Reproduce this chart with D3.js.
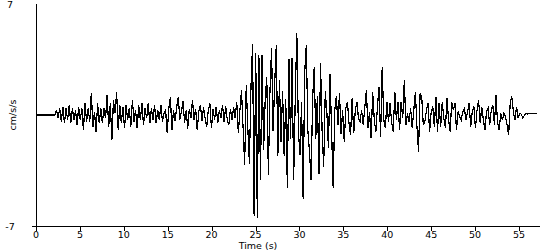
<!DOCTYPE html>
<html>
<head>
<meta charset="utf-8">
<script src="https://cdn.jsdelivr.net/npm/d3@7"></script>
<style>
  html, body { margin: 0; padding: 0; background: #fff; }
  svg { display: block; }
  text { font-family: "DejaVu Sans", sans-serif; font-size: 10px; fill: #000; }
</style>
</head>
<body>
<svg id="chart" width="550" height="250"></svg>
<script>
// ---- data ----
const sampleStep = 0.18; // seconds between samples
const quietStart = [0,0,0,0,0,0,0,0,0,0,0,0,0];
const preEvent = [0.32,-0.21,0.42,-0.42,0.53,-0.53,0.42,-0.32,0.63,-0.53,
  0.42,-0.32,0.32,-0.63,0.53,-0.32,0.42,-0.95,0.74,-0.42,
  0.42,-0.42,1.41,-0.74,0.21,-1.05,0.74,-0.53,0.42,-0.53,
  0.42,-0.21,1.26,-0.74,0.74,-1.58,0.95,0.1,1.47,-0.95,
  0.63,-0.53,0.53,-0.84,0.63,-0.32,0.42,-0.74,0.95,-0.42,
  0.32,-0.84,0.63,-0.32,0.74,-0.63,0.42,-0.21,0.74,-0.53,
  0.42,-0.32,0.63,-0.53,0.32,-0.32,0.63,-0.42,0.1,
  0.3,-1.15,0.4,1.15,-0.95,0.3,-0.4,0.5,1.15,-0.3,
  0.2,0.85,-0.5,0.3,-0.85,0.4,-0.2,0.95,-0.3,0.4,
  -0.95,0.2,0.63,-0.4,0.5,-0.2,-0.74,0.3,0.74,-0.84,
  0.4,-0.3,0.53,-0.5,0.3,-0.2,0.63,-0.45,0.57,-0.3,
  -0.63,0.4,-0.3,0.5,-0.2,0.84,-1.15,0.3,1.58];
const strongMotion = [-0.8,-3.15,1.9,-0.8,-3.1,1.8,4.5,-6.4,3.9,-6.5,
  3.8,-4.1,3.8,-2.2,1.0,2.4,-3.8,1.5,4.2,-1.0,
  2.0,4.4,-2.6,2.2,-1.7,1.5,-2.6,1.0,-4.6,3.5,
  -1.5,3.6,-4.1,1.0,5.2,-1.0,-2.5,0.8,-5.3,2.7,
  4.4,-1.0,-2.3,-4.1,1.0,3.0,-1.5,1.2,-3.7,3.3,
  -1.0,-3.3,1.5,0.2,-2.1,2.6,-1.0,-4.6,0.3,1.2,
  -0.6,1.4,-1.2,0.3,-1.7];
const coda = [0.4,0.84,-0.5,-1.26,1.05,-1.16,0.3,0.84,-0.2,-0.42,
  0.3,-0.63,0.5,1.58,-0.84,0.2,-1.47,1.47,-0.3,-1.05,
  0.5,1.79,-1.37,3.05,-0.3,-0.84,0.84,-0.42,0.74,-0.5,
  -1.05,1.47,-0.3,0.84,-0.95,0.84,-0.2,2.2,-0.63,0.1,
  -0.42,0.42,
  -0.84,0.3,1.47,-0.74,-2.31,1.37,1.16,-0.63,-0.42,0.3,
  0.74,-1.05,0.2,0.53,-0.74,1.16,-1.05,0.74,-0.74,0.84,
  -0.2,-0.84,1.05,-0.3,-1.05,0.84,0.3,0.74,-0.95,0.21,
  -0.1,-0.32,0.2,0.42,-0.32,0.2,0.74,-0.74,0.2,0.53,
  -0.84,0.3,0.95,-0.53,0.53,-0.3,-0.95,0.2,0.42,-0.63,
  0.3,0.63,-0.63,1.26,-0.5,-0.95,0.1,-0.32,0.1,-0.1,
  -0.6,-1.26,0.74,1.16,0.2,-0.32,0.53,-0.21,0.1,0.05,
  -0.21,0.0,0.1,0.05,0.1,0.1,0.1,0.1,0.1,0.1];
const xTicks = [0,5,10,15,20,25,30,35,40,45,50,55];
const yTicks = [-7, 7];
const xTitle = "Time (s)";
const yTitle = "cm/s/s";

const accel = [].concat(quietStart, preEvent, strongMotion, coda);
const series = accel.map((v, i) => ({ t: i * sampleStep, v }));

// ---- layout ----
const svg = d3.select("#chart");
const x = d3.scaleLinear().domain([0, 55]).range([36, 519]);
const y = d3.scaleLinear().domain([-7, 7]).range([226, 4]);

// x axis
const xAxis = svg.append("g").attr("transform", "translate(0,226)");
xAxis.append("line")
  .attr("x1", 32).attr("x2", 540).attr("y1", 0.5).attr("y2", 0.5)
  .attr("stroke", "#000").attr("shape-rendering", "crispEdges");
xAxis.selectAll("line.tick").data(xTicks).enter().append("line")
  .attr("class", "tick")
  .attr("x1", d => Math.round(x(d)) + 0.5).attr("x2", d => Math.round(x(d)) + 0.5)
  .attr("y1", 0).attr("y2", 5)
  .attr("stroke", "#000").attr("shape-rendering", "crispEdges");
xAxis.selectAll("text").data(xTicks).enter().append("text")
  .attr("x", d => x(d)).attr("y", 12)
  .attr("text-anchor", "middle")
  .style("font-size", "9.5px")
  .text(d => d);

// y axis
svg.append("line")
  .attr("x1", 36.5).attr("x2", 36.5).attr("y1", y(7)).attr("y2", 226)
  .attr("stroke", "#000").attr("shape-rendering", "crispEdges");
svg.selectAll("text.ytick").data(yTicks).enter().append("text")
  .attr("class", "ytick")
  .attr("x", 10).attr("y", d => y(d) + 4)
  .attr("text-anchor", "middle")
  .style("font-size", "9.5px")
  .text(d => d);

// titles
svg.append("text").attr("x", 258).attr("y", 249).attr("text-anchor", "middle")
  .style("font-size", "9.5px").text(xTitle);
svg.append("text")
  .attr("transform", "translate(16,115) rotate(-90)")
  .attr("text-anchor", "middle").style("font-size", "9.5px").text(yTitle);

// trace
const line = d3.line().x(d => x(d.t)).y(d => y(d.v));
svg.append("path")
  .datum(series)
  .attr("d", line)
  .attr("fill", "none")
  .attr("stroke", "#000")
  .attr("stroke-width", 1.2)
  .attr("shape-rendering", "crispEdges");
</script>
</body>
</html>
